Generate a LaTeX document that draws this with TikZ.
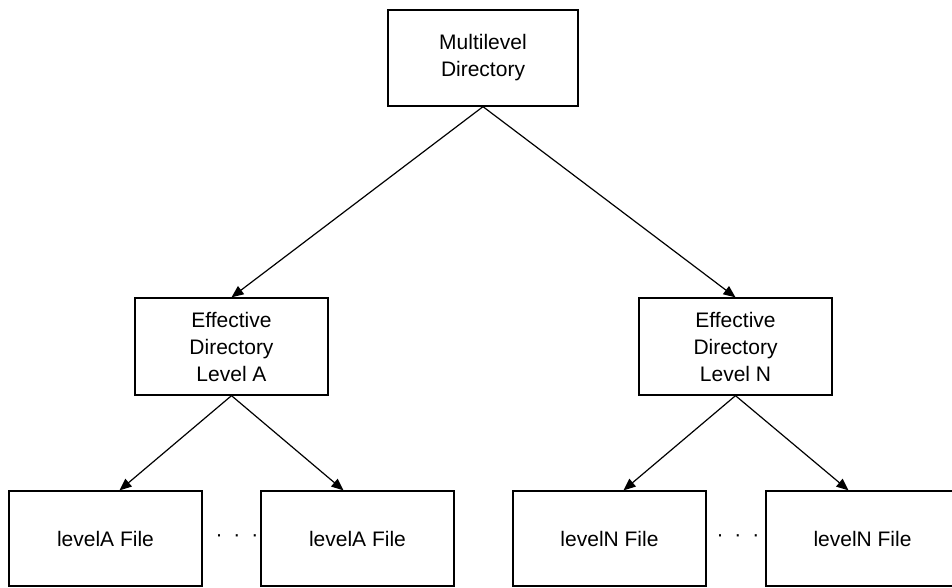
\documentclass[tikz,border=0pt]{standalone}
\usepackage{fontspec}
\setmainfont{Liberation Sans}
\usetikzlibrary{arrows.meta}
\begin{document}
\begin{tikzpicture}[x=1pt,y=-1pt,
  box/.style={draw=black,line width=1.3pt,fill=white,align=center,
    minimum width=193pt,minimum height=96pt,inner sep=0pt,
    font=\fontsize{21}{27}\selectfont},
  link/.style={draw=black,line width=1.2pt,
    -{Triangle[length=12pt,width=10pt]}},
  gap/.style={font=\fontsize{21}{27}\selectfont,anchor=base,inner sep=0pt}]
\useasboundingbox (0,0) rectangle (952,587);
\fill[white] (0,0) rectangle (952,587);

% root
\node[box,minimum width=190pt] (root) at (483,58) {Multilevel\\Directory};

% intermediate directories
\node[box,minimum height=97pt] (dirA) at (231.5,346.5) {Effective\\Directory\\Level A};
\node[box,minimum height=97pt] (dirN) at (735.5,346.5) {Effective\\Directory\\Level N};

% files
\node[box,minimum height=95pt] (fA1) at (105.5,538.5) {levelA File};
\node[box,minimum height=95pt] (fA2) at (357.5,538.5) {levelA File};
\node[box,minimum height=95pt] (fN1) at (609.5,538.5) {levelN File};
\node[box,minimum height=95pt] (fN2) at (862.5,538.5) {levelN File};

% ellipses between sibling files
\node[gap] (dotsA) at (237,541) {·\hspace{11pt}·\hspace{11pt}·};
\node[gap] (dotsN) at (738,541) {·\hspace{11pt}·\hspace{11pt}·};

% connectors
\draw[link] (root.south) -- (dirA.north);
\draw[link] (root.south) -- (dirN.north);
\draw[link] (dirA.south) -- ([xshift=14pt]fA1.north);
\draw[link] (dirA.south) -- ([xshift=-14pt]fA2.north);
\draw[link] (dirN.south) -- ([xshift=14pt]fN1.north);
\draw[link] (dirN.south) -- ([xshift=-14pt]fN2.north);
\end{tikzpicture}
\end{document}
